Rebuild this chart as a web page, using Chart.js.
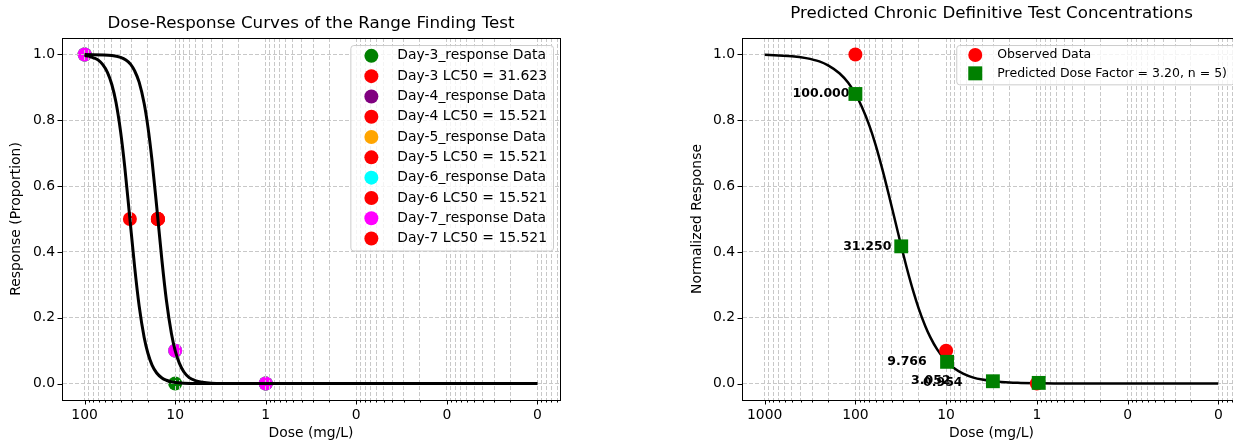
<!DOCTYPE html>
<html>
<head>
<meta charset="utf-8">
<script src="https://cdn.jsdelivr.net/npm/chart.js@4.4.0/dist/chart.umd.min.js"></script>
<style>
body { margin: 0; background: #fff; }
#wrap { position: relative; width: 1233px; height: 442px; overflow: hidden; background: #fff; }
#rfChart { position: absolute; left: 0; top: 0; }
#defChart { position: absolute; left: 620px; top: 0; }
</style>
</head>
<body>
<div id="wrap">
<canvas id="rfChart" width="620" height="442" style="width:620px;height:442px"></canvas>
<canvas id="defChart" width="700" height="442" style="width:700px;height:442px"></canvas>
</div>
<script>
Chart.defaults.font.family = '"DejaVu Sans", sans-serif';
Chart.defaults.font.size = 13.9;
Chart.defaults.color = '#000';

// left panel - range finding test
var rfDoses = [100, 10, 1];
var rfDayNames = ['Day-3', 'Day-4', 'Day-5', 'Day-6', 'Day-7'];
var rfDayColors = ['green', 'purple', 'orange', 'cyan', 'magenta'];
var rfDay3 = [1.0, 0.0, 0.0];
var rfDay4 = [1.0, 0.1, 0.0];
var rfDay5 = [1.0, 0.1, 0.0];
var rfDay6 = [1.0, 0.1, 0.0];
var rfDay7 = [1.0, 0.1, 0.0];
var rfLC50 = [31.623, 15.521, 15.521, 15.521, 15.521];

// fitted curves
var fitDoseA = [100, 90, 80, 70, 63, 56, 50, 45, 40, 36, 32, 28, 25, 22, 20, 18, 16, 14, 12.5, 11, 10, 8, 6, 4, 2, 1, 0.1, 0.01, 0.001];
var fitRespA = [0.997, 0.995, 0.990, 0.982, 0.969, 0.946, 0.908, 0.854, 0.764, 0.657, 0.515, 0.353, 0.236, 0.140, 0.092, 0.056, 0.032, 0.017, 0.010, 0.005, 0.003, 0.001, 0, 0, 0, 0, 0, 0, 0];
var fitDoseB = [100, 50, 40, 35, 31, 28, 25, 22, 20, 18, 16, 14, 12.5, 11, 10, 9, 8, 7, 6, 5, 4, 3, 2, 1, 0.1, 0.01, 0.001];
var fitRespB = [1.000, 0.997, 0.991, 0.983, 0.970, 0.950, 0.916, 0.851, 0.780, 0.677, 0.538, 0.374, 0.253, 0.152, 0.100, 0.062, 0.035, 0.018, 0.009, 0.004, 0.001, 0, 0, 0, 0, 0, 0];

var rfTickVals = [100, 10, 1, 0.1, 0.01, 0.001];
var rfTickLabels = ['100', '10', '1', '0', '0', '0'];

// right panel - chronic definitive test
var obsDoses = [100, 10, 1];
var obsResp = [1.0, 0.1, 0.0];
var predDoses = [100, 31.25, 9.766, 3.052, 0.954];
var predResp = [0.880, 0.417, 0.066, 0.007, 0.002];
var predCurveDose = [1000, 700, 500, 350, 250, 200, 150, 120, 100, 85, 70, 60, 50, 42, 36, 31.25, 27, 23, 20, 17, 15, 12.5, 10, 8, 6.5, 5, 4, 3, 2, 1.5, 1, 0.5, 0.1, 0.01];
var predCurveResp = [0.999, 0.997, 0.995, 0.989, 0.979, 0.967, 0.943, 0.914, 0.880, 0.841, 0.783, 0.726, 0.647, 0.564, 0.488, 0.418, 0.349, 0.280, 0.227, 0.175, 0.142, 0.103, 0.068, 0.045, 0.030, 0.018, 0.012, 0.007, 0.003, 0.002, 0.001, 0, 0, 0];

var defTickVals = [1000, 100, 10, 1, 0.1, 0.01];
var defTickLabels = ['1000', '100', '10', '1', '0', '0'];

var yTickVals = [0, 0.2, 0.4, 0.6, 0.8, 1.0];
var yTickLabels = ['0.0', '0.2', '0.4', '0.6', '0.8', '1.0'];

function toPoints(xs, ys) {
    return xs.map(function (x, i) { return { x: x, y: ys[i] }; });
}

// major ticks at the decades, minor ones at 2..9 of each decade
function logTicks(majors, min, max) {
    var out = [];
    var all = majors.concat([Math.min.apply(null, majors) / 10]);
    all.forEach(function (m) {
        if (majors.indexOf(m) >= 0) out.push({ value: m, major: true });
        for (var k = 2; k <= 9; k++) {
            var v = m * k;
            if (v > min && v < max && majors.indexOf(v) < 0) out.push({ value: v, major: false });
        }
    });
    out.sort(function (a, b) { return a.value - b.value; });
    return out;
}

// full box round the axes + matplotlib-like tick marks
var axesFrame = {
    id: 'axesFrame',
    afterDraw: function (chart) {
        var ctx = chart.ctx, a = chart.chartArea;
        var xs = chart.scales.x, ys = chart.scales.y;
        ctx.save();
        ctx.strokeStyle = '#000';
        ctx.lineWidth = 1;
        ctx.beginPath();
        xs.ticks.forEach(function (t) {
            var px = Math.round(xs.getPixelForValue(t.value)) + 0.5;
            ctx.moveTo(px, a.bottom);
            ctx.lineTo(px, a.bottom + (t.major ? 4.5 : 2.5));
        });
        ys.ticks.forEach(function (t) {
            var py = Math.round(ys.getPixelForValue(t.value)) + 0.5;
            ctx.moveTo(a.left, py);
            ctx.lineTo(a.left - 4.5, py);
        });
        ctx.stroke();
        ctx.strokeRect(Math.round(a.left) + 0.5, Math.round(a.top) + 0.5, Math.round(a.right - a.left), Math.round(a.bottom - a.top));
        ctx.restore();
    }
};

// matplotlib puts the grid above scatter markers but under lines
var gridOverScatter = {
    id: 'gridOverScatter',
    beforeDraw: function (chart) { chart.$gridRedrawn = false; },
    beforeDatasetDraw: function (chart, args) {
        if (args.meta.type === 'line' && !chart.$gridRedrawn) {
            chart.$gridRedrawn = true;
            chart.scales.x.drawGrid(chart.chartArea);
            chart.scales.y.drawGrid(chart.chartArea);
        }
    }
};

// legend box inside the axes, upper right
var boxLegend = {
    id: 'boxLegend',
    afterDraw: function (chart, args, o) {
        var ctx = chart.ctx, a = chart.chartArea;
        ctx.save();
        ctx.font = o.fontSize + 'px "DejaVu Sans"';
        var tw = 0;
        o.items.forEach(function (it) { tw = Math.max(tw, ctx.measureText(it.text).width); });
        var w = o.textX + tw + o.padRight;
        var h = o.firstRow + (o.items.length - 1) * o.rowGap + o.lastPad;
        var x0 = a.right - 7 - w, y0 = a.top + 7;
        ctx.beginPath();
        ctx.roundRect(x0 + 0.5, y0 + 0.5, w, h, 3);
        ctx.fillStyle = 'rgba(255,255,255,0.8)';
        ctx.fill();
        ctx.strokeStyle = '#cccccc';
        ctx.lineWidth = 1;
        ctx.stroke();
        o.items.forEach(function (it, i) {
            var cy = y0 + o.firstRow + i * o.rowGap;
            var cx = x0 + o.markerX;
            ctx.fillStyle = it.color;
            ctx.beginPath();
            if (it.shape === 'rect') {
                ctx.rect(cx - 7, cy - 7, 14, 14);
            } else {
                ctx.arc(cx, cy, 7, 0, Math.PI * 2);
            }
            ctx.fill();
            ctx.fillStyle = '#000';
            ctx.textAlign = 'left';
            ctx.textBaseline = 'middle';
            ctx.fillText(it.text, x0 + o.textX, cy);
        });
        ctx.restore();
    }
};

// bold dose labels next to the predicted squares
var doseLabels = {
    id: 'doseLabels',
    beforeDatasetsDraw: function (chart, args, o) {
        var xs = chart.scales.x, ys = chart.scales.y, ctx = chart.ctx;
        ctx.save();
        ctx.font = 'bold 12.5px "DejaVu Sans"';
        ctx.textAlign = 'right';
        ctx.textBaseline = 'middle';
        ctx.fillStyle = '#000';
        predDoses.forEach(function (d, i) {
            ctx.fillText(d.toFixed(3), xs.getPixelForValue(d + o.shift) - o.gap, ys.getPixelForValue(predResp[i]));
        });
        ctx.restore();
    }
};

function xAxis(min, max, tickVals, tickLabels) {
    return {
        type: 'logarithmic',
        reverse: true,
        min: min,
        max: max,
        bounds: 'data',
        afterBuildTicks: function (scale) { scale.ticks = logTicks(tickVals, min, max); },
        afterFit: function (scale) { scale.height = 42; },
        ticks: {
            autoSkip: false,
            maxRotation: 0,
            padding: 7,
            font: { size: 13.9 },
            callback: function (value) {
                var i = tickVals.indexOf(value);
                return i >= 0 ? tickLabels[i] : '';
            }
        },
        grid: { color: '#c8c8c8', lineWidth: 1, drawTicks: false },
        border: { display: true, color: '#000', width: 1, dash: [4, 2] },
        title: { display: true, text: 'Dose (mg/L)', font: { size: 13.9 }, padding: { top: 0, bottom: 0 } }
    };
}

function yAxis(label, width, titlePad) {
    return {
        type: 'linear',
        min: -0.05,
        max: 1.05,
        bounds: 'data',
        afterBuildTicks: function (scale) {
            scale.ticks = yTickVals.map(function (v) { return { value: v }; });
        },
        afterFit: function (scale) { scale.width = width; },
        ticks: {
            padding: 7,
            font: { size: 13.9 },
            callback: function (value) {
                var i = yTickVals.indexOf(value);
                return i >= 0 ? yTickLabels[i] : '';
            }
        },
        grid: { color: '#c8c8c8', lineWidth: 1, drawTicks: false },
        border: { display: true, color: '#000', width: 1, dash: [4, 2] },
        title: { display: true, text: label, font: { size: 13.9 }, padding: { top: titlePad, bottom: 0 } }
    };
}

// left chart datasets
var rfSets = [];
var rfLegendItems = [];
rfSets.push({ type: 'line', data: toPoints(fitDoseA, fitRespA), showLine: true, borderColor: '#000', borderWidth: 3, pointRadius: 0, cubicInterpolationMode: 'monotone', fill: false, order: 0 });
rfSets.push({ type: 'line', data: toPoints(fitDoseB, fitRespB), showLine: true, borderColor: '#000', borderWidth: 3, pointRadius: 0, cubicInterpolationMode: 'monotone', fill: false, order: 0 });
var rfResponses = [rfDay3, rfDay4, rfDay5, rfDay6, rfDay7];
for (var d = 0; d < rfDayNames.length; d++) {
    rfSets.push({
        label: rfDayNames[d] + '_response Data',
        data: toPoints(rfDoses, rfResponses[d]),
        backgroundColor: rfDayColors[d], borderColor: rfDayColors[d],
        pointRadius: 7, pointBorderWidth: 0, order: 100 - d * 2
    });
    rfSets.push({
        label: rfDayNames[d] + ' LC50 = ' + rfLC50[d].toFixed(3),
        data: [{ x: rfLC50[d], y: 0.5 }],
        backgroundColor: 'red', borderColor: 'red',
        pointRadius: 7, pointBorderWidth: 0, order: 99 - d * 2
    });
    rfLegendItems.push({ text: rfDayNames[d] + '_response Data', color: rfDayColors[d], shape: 'circle' });
    rfLegendItems.push({ text: rfDayNames[d] + ' LC50 = ' + rfLC50[d].toFixed(3), color: 'red', shape: 'circle' });
}

var rfChart = new Chart(document.getElementById('rfChart'), {
    type: 'scatter',
    data: { datasets: rfSets },
    options: {
        responsive: false,
        animation: false,
        devicePixelRatio: 1,
        layout: { padding: { left: 0, right: 60, top: 0, bottom: 0 } },
        scales: {
            x: xAxis(0.000562, 177.8, rfTickVals, rfTickLabels),
            y: yAxis('Response (Proportion)', 62, 8.5)
        },
        plugins: {
            legend: { display: false },
            tooltip: { enabled: false },
            title: {
                display: true, fullSize: false,
                text: 'Dose-Response Curves of the Range Finding Test',
                font: { size: 16.7, weight: 'normal' }, color: '#000',
                padding: { top: 14, bottom: 4 }
            },
            boxLegend: { items: rfLegendItems, fontSize: 13.9, rowGap: 20.3, firstRow: 10.8, lastPad: 12, markerX: 21, textX: 47, padRight: 6 }
        }
    },
    plugins: [gridOverScatter, axesFrame, boxLegend]
});

// right chart
var defChart = new Chart(document.getElementById('defChart'), {
    type: 'scatter',
    data: {
        datasets: [
            { label: 'Predicted Dose Factor = 3.20, n = 5)', data: toPoints(predDoses, predResp), pointStyle: 'rect', pointRadius: 9.8, pointBorderWidth: 0, backgroundColor: 'green', borderColor: 'green', order: 0 },
            { label: 'Observed Data', data: toPoints(obsDoses, obsResp), pointRadius: 7, pointBorderWidth: 0, backgroundColor: 'red', borderColor: 'red', order: 1 },
            { type: 'line', data: toPoints(predCurveDose, predCurveResp), showLine: true, borderColor: '#000', borderWidth: 2.5, pointRadius: 0, cubicInterpolationMode: 'monotone', fill: false, order: 2 }
        ]
    },
    options: {
        responsive: false,
        animation: false,
        devicePixelRatio: 1,
        layout: { padding: { left: 0, right: 79, top: 0, bottom: 0 } },
        scales: {
            x: xAxis(0.00562, 1778, defTickVals, defTickLabels),
            y: yAxis('Normalized Response', 122, 69.5)
        },
        plugins: {
            legend: { display: false },
            tooltip: { enabled: false },
            title: {
                display: true, fullSize: false,
                text: 'Predicted Chronic Definitive Test Concentrations',
                font: { size: 16.7, weight: 'normal' }, color: '#000',
                padding: { top: 3.5, bottom: 14.5 }
            },
            doseLabels: { shift: 5, gap: 4 },
            boxLegend: {
                items: [
                    { text: 'Observed Data', color: 'red', shape: 'circle' },
                    { text: 'Predicted Dose Factor = 3.20, n = 5)', color: 'green', shape: 'rect' }
                ],
                fontSize: 12.5, rowGap: 18.3, firstRow: 10, lastPad: 11, markerX: 19, textX: 41, padRight: 7
            }
        }
    },
    plugins: [axesFrame, doseLabels, boxLegend]
});
</script>
</body>
</html>
